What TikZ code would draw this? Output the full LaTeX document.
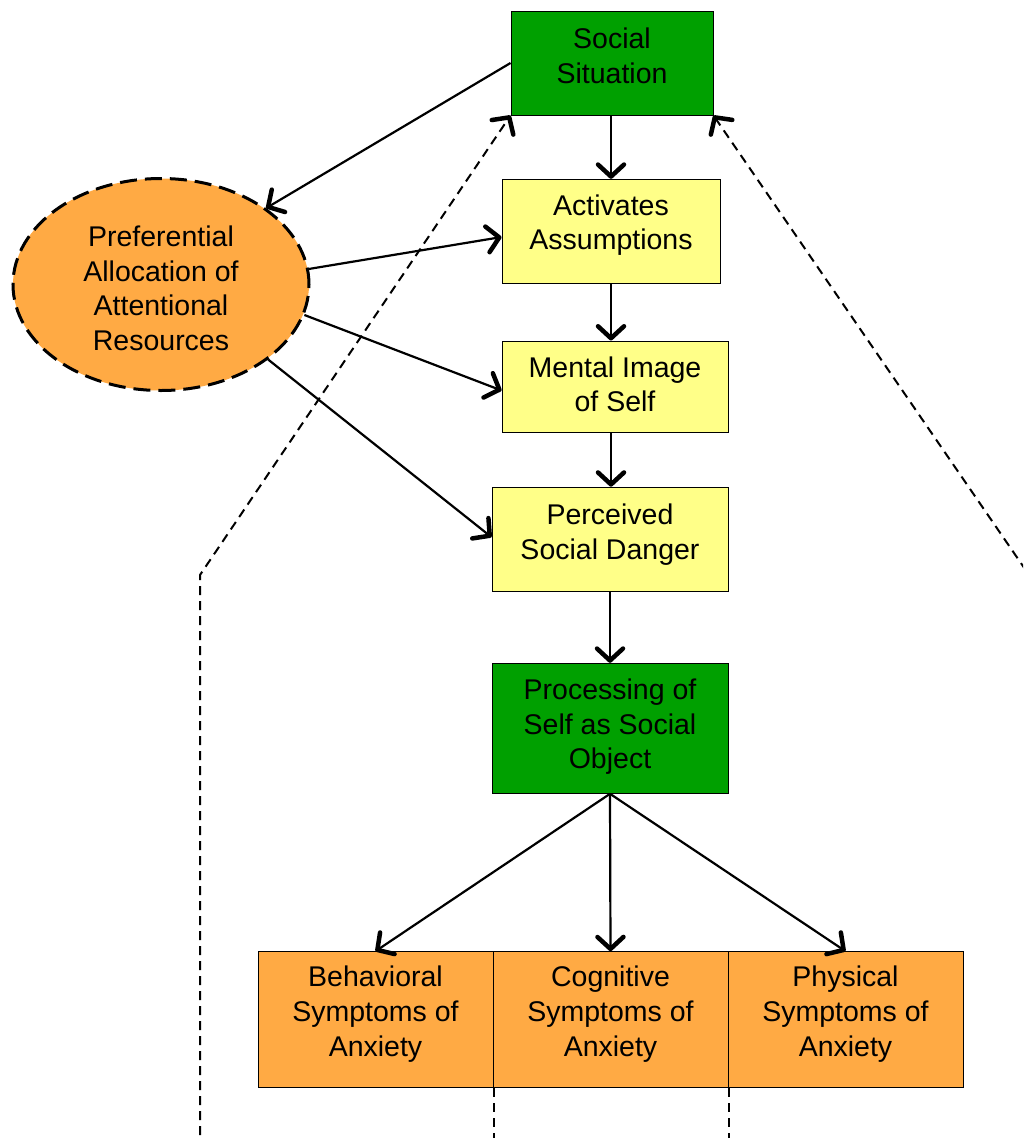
\documentclass[tikz,border=0pt]{standalone}
\usepackage{fontspec}
\setmainfont{Liberation Sans}
\usetikzlibrary{arrows.meta,shapes.geometric}
\definecolor{sgreen}{RGB}{0,160,0}
\definecolor{syellow}{RGB}{255,255,136}
\definecolor{sorange}{RGB}{255,170,68}
\newcommand\fstrut[1]{\rule{0pt}{#1pt}}
\newcommand\lstrut[1]{\rule[-#1pt]{0pt}{#1pt}}
\begin{document}
\begin{tikzpicture}[x=1pt,y=-1pt,
  lbl/.style={align=center, inner sep=0pt, font=\fontsize{28.5}{34.6}\selectfont},
  box/.style={lbl, draw=black, line width=1pt},
  tip/.style={-{Straight Barb[length=12pt,width=26pt,line width=4.5pt 0,round]}},
  arr/.style={line width=2.2pt, tip},
  dsh/.style={line width=2pt, dash pattern=on 9pt off 6pt}
]
\useasboundingbox (0,0) rectangle (1023,1138);
\clip (0,0) rectangle (1023,1138);

\node[box, fill=sgreen, minimum width=202pt, minimum height=104pt] (soc) at (612,63) {\fstrut{21}Social\\Situation\lstrut{15.6}};
\node[box, fill=syellow, minimum width=218pt, minimum height=104pt] (act) at (611,231.3) {\fstrut{21}Activates\\Assumptions\lstrut{18.4}};
\node[box, fill=syellow, minimum width=226pt, minimum height=91pt] (men) at (615,386.5) {\fstrut{21}Mental Image\\of Self\lstrut{5.2}};
\node[box, fill=syellow, minimum width=236pt, minimum height=104pt] (per) at (610,539.2) {\fstrut{21}Perceived\\Social Danger\lstrut{15.6}};
\node[box, fill=sgreen, minimum width=236pt, minimum height=130pt] (proc) at (610,728.3) {\fstrut{21}Processing of\\Self as Social\\Object\lstrut{9.6}};
\node[box, fill=sorange, minimum width=235pt, minimum height=136pt] (beh) at (375.5,1019.7) {\fstrut{21}Behavioral\\Symptoms of\\Anxiety\lstrut{17.4}};
\node[box, fill=sorange, minimum width=235pt, minimum height=136pt] (cog) at (610.5,1019.7) {\fstrut{21}Cognitive\\Symptoms of\\Anxiety\lstrut{17.4}};
\node[box, fill=sorange, minimum width=235pt, minimum height=136pt] (phy) at (845.5,1019.7) {\fstrut{21}Physical\\Symptoms of\\Anxiety\lstrut{17.4}};
\node[lbl, ellipse, fill=sorange, draw=black, line width=3pt, dash pattern=on 17pt off 8pt,
      minimum width=296pt, minimum height=212pt] (ell) at (161,284.5) {\fstrut{28}Preferential\\Allocation of\\Attentional\\Resources\lstrut{0}};

% solid arrows
\draw[arr] (soc.west) -- (ell.36);
\draw[arr] (soc.south -| 611,0) -- (act.north -| 611,0);
\draw[arr] (act.south) -- (act.south |- men.north);
\draw[arr] (act.south |- men.south) -- (act.south |- per.north);
\draw[arr] (per.south) -- (proc.north);
\draw[arr] (ell.6.6) -- (act.183);
\draw[arr] (ell.-12) -- (men.182);
\draw[arr] (ell.-35.6) -- (per.179);
\draw[arr] (proc.south) -- (beh.north);
\draw[arr] (proc.south) -- (cog.north);
\draw[arr] (proc.south) -- (phy.north);

% dashed feedback lines
\coordinate (lc) at (200,575);
\coordinate (lb) at (200,1150);
\coordinate (rf) at (1060,620);
\draw[dsh, tip] (lb) -- (lc) -- (soc.south west);
\draw[dsh, tip] (rf) -- (soc.south east);
\draw[dsh] (beh.south east) -- (beh.south east |- lb);
\draw[dsh] (cog.south east) -- (cog.south east |- lb);
\end{tikzpicture}
\end{document}
